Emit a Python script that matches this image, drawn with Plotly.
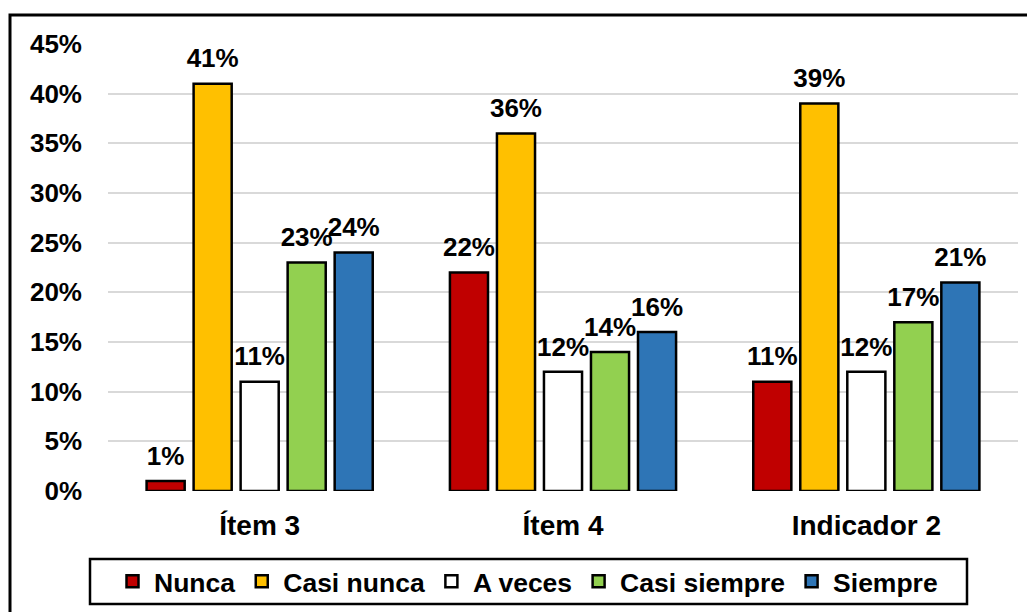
import plotly.graph_objects as go

categories = ["Ítem 3", "Ítem 4", "Indicador 2"]
series_names = ["Nunca", "Casi nunca", "A veces", "Casi siempre", "Siempre"]
nunca = [0.01, 0.22, 0.11]
casi_nunca = [0.41, 0.36, 0.39]
a_veces = [0.11, 0.12, 0.12]
casi_siempre = [0.23, 0.14, 0.17]
siempre = [0.24, 0.16, 0.21]
colors = ["#C00000", "#FFC000", "#FFFFFF", "#92D050", "#2E75B6"]
y_ticks = [0, 0.05, 0.10, 0.15, 0.20, 0.25, 0.30, 0.35, 0.40, 0.45]

values = [nunca, casi_nunca, a_veces, casi_siempre, siempre]
FONT = "Liberation Sans, Arial, sans-serif"

# page body has an 8px default margin: figure sized to fit the window
W, H = 1027, 604
L, R, T, B = 100, 17, 36, 121
PW, PH = W - L - R, H - T - B
BOT = T + PH


def px_x(p):
    return (p - L) / PW


def px_y(p):
    return (BOT - p) / PH


fig = go.Figure()
for name, vals, col in zip(series_names, values, colors):
    fig.add_trace(go.Bar(
        name=name, x=categories, y=vals,
        marker=dict(color=col, line=dict(color="black", width=2.5)),
        offsetgroup=name, alignmentgroup="bars",
    ))
for name, vals in zip(series_names, values):
    fig.add_trace(go.Scatter(
        x=categories, y=vals, mode="markers+text",
        text=[f"{round(v*100)}%" for v in vals],
        textposition="top center",
        textfont=dict(family=FONT, size=26, color="black", weight="bold"),
        marker=dict(size=14, opacity=0),
        showlegend=False, hoverinfo="skip", cliponaxis=False,
        offsetgroup=name, alignmentgroup="labels",
    ))

fig.update_layout(
    width=W, height=H,
    margin=dict(l=L, r=R, t=T, b=B, autoexpand=False),
    paper_bgcolor="white", plot_bgcolor="white",
    barmode="group", bargap=0.225, bargroupgap=0.19,
    scattermode="group", scattergap=0.225,
    font=dict(family=FONT, color="black"),
    xaxis=dict(
        tickfont=dict(family=FONT, size=28, color="black", weight="bold"),
        showgrid=False, showline=False, zeroline=False,
        ticklabelstandoff=15, automargin=False,
    ),
    yaxis=dict(
        range=[0, 0.45], tickvals=y_ticks, tickformat=".0%",
        tickfont=dict(family=FONT, size=26, color="black", weight="bold"),
        showgrid=True, gridcolor="#D9D9D9", gridwidth=2,
        zeroline=False, showline=False,
        ticklabelstandoff=25, automargin=False,
    ),
    legend=dict(
        orientation="h", x=px_x(519), xanchor="center",
        y=px_y(573.5), yanchor="middle",
        bgcolor="rgba(0,0,0,0)", borderwidth=0,
        font=dict(family=FONT, size=26.5, color="black", weight="bold"),
        itemwidth=33, tracegroupgap=0,
    ),
    shapes=[
        dict(
            type="rect", xref="paper", yref="paper",
            x0=px_x(2), x1=px_x(W + 20),
            y0=px_y(H + 20), y1=px_y(7),
            line=dict(color="black", width=3), fillcolor="rgba(0,0,0,0)",
            layer="below",
        ),
        dict(
            type="rect", xref="paper", yref="paper",
            x0=px_x(82), x1=px_x(959),
            y0=px_y(596), y1=px_y(551),
            line=dict(color="black", width=2.5), fillcolor="rgba(0,0,0,0)",
            layer="below",
        ),
    ],
)

fig.write_html("out.html")
